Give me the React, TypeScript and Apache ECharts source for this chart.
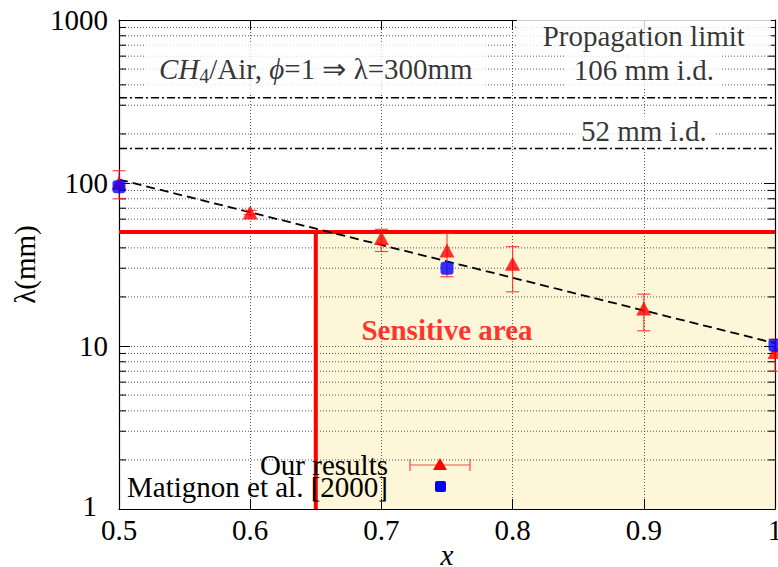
import React, { useEffect, useRef } from 'react';
import * as echarts from 'echarts';

const FONT = 'Liberation Serif';

// Axis ranges
const X_MIN = 0.5;
const X_MAX = 1;
const X_STEP = 0.1;
const Y_MIN = 1;
const Y_MAX = 1000;

// Minor decade subdivisions of the log axis
const yMinorTicks = [
  2, 3, 4, 5, 6, 7, 8, 9,
  20, 30, 40, 50, 60, 70, 80, 90,
  200, 300, 400, 500, 600, 700, 800, 900,
];

// Our results: equivalence ratio x, cell size λ (mm) and error bounds
const oursX = [0.5, 0.6, 0.7, 0.75, 0.8, 0.9, 1.0];
const oursLambda = [100, 66, 46, 38.5, 32, 17, 9.2];
const oursLow = [80, 64, 38, 26.6, 21.5, 12.4, 7.0];
const oursHigh = [119, 68, 52, 49, 40.7, 20.8, 11];

// Matignon et al. [2000]
const matX = [0.5, 0.75, 1.0];
const matLambda = [95, 30, 10.1];

// Exponential fit (straight on the log axis)
const fitX = [0.5, 1.0];
const fitLambda = [105, 10.4];

// Propagation limits λ = π·d for the two tube diameters
const limitLambda = [333, 163];

// Sensitive area bounds
const sensitiveX = 0.65;
const sensitiveLambda = 50;

const RED = '#ff0000';
const BLUE = '#0000ff';
const ERR = 'rgba(255,40,40,0.85)';

const FS = 29;
const baseText = { fontFamily: FONT, fontSize: FS, color: '#000' };

export default function App() {
  const ref = useRef<HTMLDivElement>(null);

  useEffect(() => {
    if (!ref.current) return;
    const chart = echarts.init(ref.current, undefined, { renderer: 'svg' });

    const hLine = (y: number) => [
      [X_MIN, y],
      [X_MAX, y],
    ];

    const legendFont = `${FS}px ${FONT}`;

    const option: any = {
      animation: false,
      backgroundColor: '#fff',
      grid: {
        left: 119,
        right: 3,
        top: 20,
        bottom: 58,
        containLabel: false,
        outerBoundsMode: 'none',
      },
      xAxis: [
        {
          type: 'value',
          min: X_MIN,
          max: X_MAX,
          interval: X_STEP,
          position: 'bottom',
          z: 3,
          name: 'x',
          nameLocation: 'middle',
          nameGap: 31,
          nameMoveOverlap: false,
          nameTextStyle: { ...baseText, fontStyle: 'italic' },
          axisLine: { show: true, onZero: false, lineStyle: { color: '#000', width: 1.2 } },
          axisTick: { show: true, inside: true, length: 10, lineStyle: { color: '#000' } },
          axisLabel: {
            ...baseText,
            margin: 6,
            formatter: (v: number) => String(Math.round(v * 10) / 10),
          },
          splitLine: { show: true, lineStyle: { color: '#555', type: [1, 2], width: 1 } },
        },
        {
          type: 'value',
          min: X_MIN,
          max: X_MAX,
          interval: X_STEP,
          position: 'top',
          z: 3,
          axisLine: { show: true, onZero: false, lineStyle: { color: '#000', width: 1.2 } },
          axisTick: { show: true, inside: true, length: 10, lineStyle: { color: '#000' } },
          axisLabel: { show: false },
          splitLine: { show: false },
        },
      ],
      yAxis: [
        {
          type: 'log',
          logBase: 10,
          min: Y_MIN,
          max: Y_MAX,
          position: 'left',
          z: 3,
          name: 'λ(mm)',
          nameLocation: 'middle',
          nameGap: 80,
          nameMoveOverlap: false,
          nameTextStyle: { ...baseText },
          axisLine: { show: true, onZero: false, lineStyle: { color: '#000', width: 1.2 } },
          axisTick: { show: true, inside: true, length: 11, lineStyle: { color: '#000' } },
          axisLabel: {
            margin: 11,
            formatter: (v: number) => {
              const r = Math.round(v);
              return r === 1 ? '{one|1}' : `{n|${r}}`;
            },
            rich: {
              n: { ...baseText },
              one: { ...baseText, padding: [0, 11, 6, 0] },
            },
          },
          splitLine: { show: true, lineStyle: { color: '#555', type: [1, 2], width: 1 } },
        },
        {
          type: 'log',
          logBase: 10,
          min: Y_MIN,
          max: Y_MAX,
          position: 'right',
          z: 3,
          axisLine: { show: true, onZero: false, lineStyle: { color: '#000', width: 1.2 } },
          axisTick: { show: true, inside: true, length: 11, lineStyle: { color: '#000' } },
          axisLabel: { show: false },
          splitLine: { show: false },
        },
      ],
      series: [
        // shaded sensitive area
        {
          type: 'line',
          z: 1,
          symbol: 'none',
          silent: true,
          data: [[sensitiveX, sensitiveLambda]],
          lineStyle: { opacity: 0 },
          markArea: {
            silent: true,
            itemStyle: { color: '#fdf6d8' },
            data: [[{ coord: [sensitiveX, Y_MIN] }, { coord: [X_MAX, sensitiveLambda] }]],
          },
        },
        // minor grid lines and minor ticks on both sides
        {
          type: 'custom',
          z: 4,
          silent: true,
          encode: { x: 0, y: 1 },
          data: yMinorTicks.map((v) => [X_MIN, v]),
          renderItem: (_p: any, api: any) => {
            const v = api.value(1);
            const a = api.coord([X_MIN, v]);
            const b = api.coord([X_MAX, v]);
            return {
              type: 'group',
              children: [
                {
                  type: 'line',
                  shape: { x1: a[0], y1: a[1], x2: b[0], y2: b[1] },
                  style: { stroke: '#555', lineWidth: 1, lineDash: [1, 2] },
                },
                {
                  type: 'line',
                  shape: { x1: a[0], y1: a[1], x2: a[0] + 7, y2: a[1] },
                  style: { stroke: '#000', lineWidth: 1 },
                },
                {
                  type: 'line',
                  shape: { x1: b[0] - 7, y1: b[1], x2: b[0], y2: b[1] },
                  style: { stroke: '#000', lineWidth: 1 },
                },
              ],
            };
          },
        },
        // propagation limits
        ...limitLambda.map((l) => ({
          type: 'line',
          z: 5,
          symbol: 'none',
          silent: true,
          data: hLine(l),
          lineStyle: { color: '#000', width: 1.5, type: [8, 3, 2, 3] },
        })),
        // sensitive area boundary
        {
          type: 'line',
          z: 5,
          symbol: 'none',
          silent: true,
          data: hLine(sensitiveLambda),
          lineStyle: { color: RED, width: 4 },
        },
        {
          type: 'line',
          z: 5,
          symbol: 'none',
          silent: true,
          data: [
            [sensitiveX, Y_MIN],
            [sensitiveX, sensitiveLambda],
          ],
          lineStyle: { color: RED, width: 4 },
        },
        // exponential fit
        {
          type: 'line',
          z: 6,
          symbol: 'none',
          silent: true,
          data: fitX.map((x, i) => [x, fitLambda[i]]),
          lineStyle: { color: '#000', width: 1.8, type: [9, 5] },
        },
        // error bars of our results
        {
          type: 'custom',
          z: 7,
          silent: true,
          clip: false,
          encode: { x: 0, y: [1, 2] },
          data: oursX.map((x, i) => [x, oursLow[i], oursHigh[i]]),
          renderItem: (_p: any, api: any) => {
            const x = api.value(0);
            const lo = api.coord([x, api.value(1)]);
            const hi = api.coord([x, api.value(2)]);
            const w = 6.5;
            const st = { stroke: ERR, lineWidth: 1.2 };
            return {
              type: 'group',
              children: [
                { type: 'line', shape: { x1: lo[0], y1: lo[1], x2: hi[0], y2: hi[1] }, style: st },
                { type: 'line', shape: { x1: lo[0] - w, y1: lo[1], x2: lo[0] + w, y2: lo[1] }, style: st },
                { type: 'line', shape: { x1: hi[0] - w, y1: hi[1], x2: hi[0] + w, y2: hi[1] }, style: st },
              ],
            };
          },
        },
        {
          name: 'Our results',
          type: 'scatter',
          z: 8,
          clip: false,
          symbol: 'triangle',
          symbolSize: [15, 14],
          itemStyle: { color: RED },
          data: oursX.map((x, i) => [x, oursLambda[i]]),
        },
        {
          name: 'Matignon et al. [2000]',
          type: 'scatter',
          z: 9,
          clip: false,
          symbol: 'roundRect',
          symbolSize: 13,
          itemStyle: { color: BLUE },
          data: matX.map((x, i) => [x, matLambda[i]]),
        },
        // annotations
        {
          type: 'scatter',
          z: 10,
          silent: true,
          clip: false,
          symbolSize: 0,
          itemStyle: { color: 'transparent' },
          label: { show: true, position: 'inside', ...baseText },
          data: [
            {
              value: [0.65, 500],
              label: {
                backgroundColor: '#fff',
                padding: [9, 13],
                formatter: '{i|CH}{s|4}{r|/Air, }{i|ϕ}{r|=1 ⇒ λ=300mm}',
                rich: {
                  i: { ...baseText, fontStyle: 'italic' },
                  r: { ...baseText },
                  s: { ...baseText, fontSize: 20, padding: [14, 0, 0, 0] },
                },
              },
            },
            {
              value: [0.9, 800],
              label: { backgroundColor: '#fff', padding: [0, 26, 3, 26], formatter: 'Propagation limit' },
            },
            {
              value: [0.9, 493],
              label: { backgroundColor: '#fff', padding: [3, 8], formatter: '106 mm i.d.' },
            },
            {
              value: [0.9, 208],
              label: { backgroundColor: '#fff', padding: [1, 8], formatter: '52 mm i.d.' },
            },
            {
              value: [0.75, 12.5],
              label: { color: RED, fontWeight: 'bold', formatter: 'Sensitive area' },
            },
          ],
        },
      ],
      graphic: [
        {
          type: 'text',
          z: 50,
          x: 388,
          y: 465,
          style: { text: 'Our results', font: legendFont, fill: '#000', align: 'right', verticalAlign: 'middle' },
        },
        {
          type: 'text',
          z: 50,
          x: 388,
          y: 487,
          style: {
            text: 'Matignon et al. [2000]',
            font: legendFont,
            fill: '#000',
            align: 'right',
            verticalAlign: 'middle',
          },
        },
        { type: 'line', z: 50, shape: { x1: 410, y1: 465, x2: 470, y2: 465 }, style: { stroke: ERR, lineWidth: 1.2 } },
        { type: 'line', z: 50, shape: { x1: 410, y1: 459, x2: 410, y2: 471 }, style: { stroke: ERR, lineWidth: 1.2 } },
        { type: 'line', z: 50, shape: { x1: 470, y1: 459, x2: 470, y2: 471 }, style: { stroke: ERR, lineWidth: 1.2 } },
        {
          type: 'polygon',
          z: 50,
          shape: { points: [[440, 458], [433, 470], [447, 470]] },
          style: { fill: RED },
        },
        { type: 'rect', z: 50, shape: { x: 435, y: 481, width: 11, height: 11, r: 2 }, style: { fill: BLUE } },
      ],
    };

    chart.setOption(option);
    return () => chart.dispose();
  }, []);

  return (
    <div
      ref={ref}
      style={{ position: 'absolute', left: 0, top: 0, width: 778, height: 567, background: '#fff' }}
    />
  );
}
